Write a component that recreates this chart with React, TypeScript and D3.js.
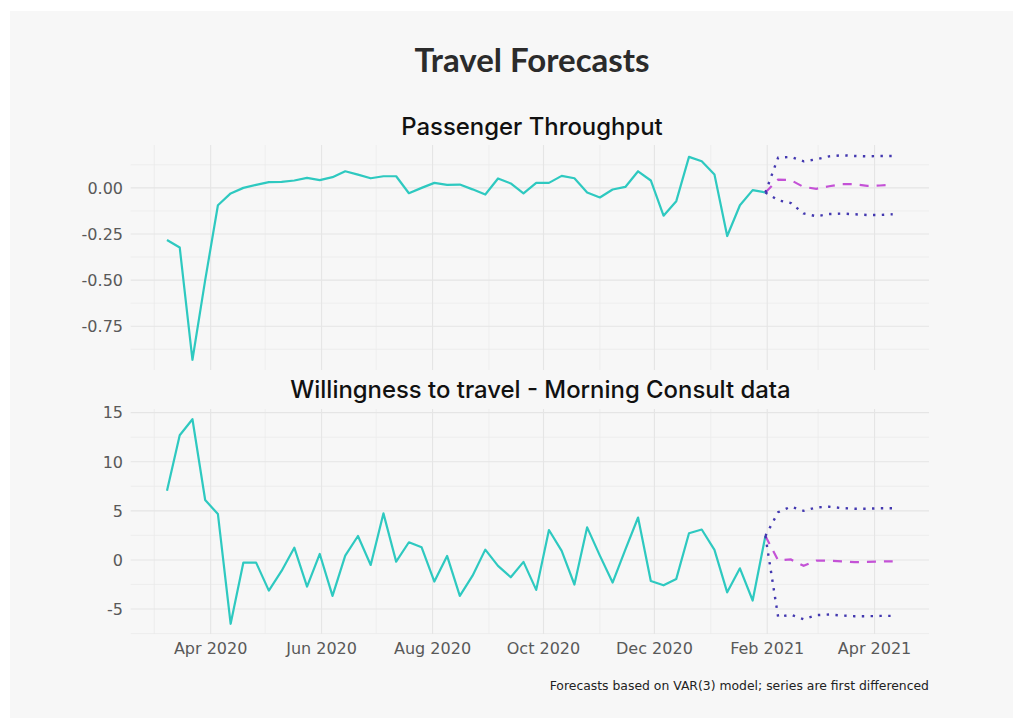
import { scaleTime, scaleLinear, line, extent, timeDay, timeFormat } from "d3";

// Weekly series: first observation and first forecast week
const obsStart = new Date(2020, 2, 8);
const fcStart = new Date(2021, 1, 7);

// Passenger throughput (first differenced)
const passengerObs = [
  -0.283, -0.323, -0.932, -0.5, -0.094, -0.03, 0.0, 0.016, 0.031, 0.033, 0.04, 0.054,
  0.042, 0.058, 0.09, 0.072, 0.052, 0.063, 0.063, -0.029, 0.0, 0.027, 0.016, 0.018,
  -0.008, -0.036, 0.051, 0.024, -0.03, 0.027, 0.027, 0.065, 0.052, -0.025, -0.052, -0.009,
  0.005, 0.09, 0.04, -0.151, -0.072, 0.168, 0.144, 0.072, -0.261, -0.094, -0.012, -0.025,
];
const passengerMean = [0.045, 0.042, 0.005, -0.005, 0.009, 0.02, 0.02, 0.011, 0.013, 0.018];
const passengerUpper = [0.164, 0.168, 0.144, 0.155, 0.171, 0.177, 0.173, 0.171, 0.173, 0.173];
const passengerLower = [-0.067, -0.082, -0.139, -0.154, -0.142, -0.139, -0.143, -0.147, -0.147, -0.143];

// Willingness to travel (first differenced)
const willingObs = [
  7.04, 12.7, 14.33, 6.1, 4.67, -6.5, -0.27, -0.27, -3.12, -1.12, 1.25, -2.71,
  0.61, -3.66, 0.44, 2.44, -0.51, 4.74, -0.17, 1.8, 1.29, -2.2, 0.41, -3.66,
  -1.6, 1.05, -0.6, -1.76, -0.2, -3.05, 3.05, 0.93, -2.5, 3.32, 0.44, -2.3,
  1.05, 4.32, -2.15, -2.58, -1.93, 2.72, 3.1, 1.02, -3.3, -0.85, -4.13, 2.44,
];
const willingMean = [-0.05, 0.05, -0.6, -0.07, -0.07, -0.14, -0.22, -0.2, -0.15, -0.15];
const willingUpper = [4.86, 5.42, 5.0, 5.35, 5.42, 5.28, 5.22, 5.22, 5.26, 5.26];
const willingLower = [-5.8, -5.58, -6.03, -5.62, -5.56, -5.66, -5.73, -5.73, -5.7, -5.7];

// Axis ticks
const xMajor = [
  new Date(2020, 3, 1), new Date(2020, 5, 1), new Date(2020, 7, 1), new Date(2020, 9, 1),
  new Date(2020, 11, 1), new Date(2021, 1, 1), new Date(2021, 3, 1),
];
const xMinor = [
  new Date(2020, 2, 1), new Date(2020, 4, 1), new Date(2020, 6, 1), new Date(2020, 8, 1),
  new Date(2020, 10, 1), new Date(2021, 0, 1), new Date(2021, 2, 1),
];
const passengerTicks = [0, -0.25, -0.5, -0.75];
const passengerMinor = [0.125, -0.125, -0.375, -0.625, -0.875];
const willingTicks = [15, 10, 5, 0, -5];
const willingMinor = [12.5, 7.5, 2.5, -2.5, -7.5];

const W = 1018;
const H = 722;
const left = 130.7;
const right = 929;
const teal = "#2ec9c0";
const magenta = "#c452d6";
const navy = "#4338b0";
const fmt = timeFormat("%b %Y");

type Pt = { d: Date; v: number };
const weekly = (start: Date, vals: number[]): Pt[] =>
  vals.map((v, i) => ({ d: timeDay.offset(start, 7 * i), v }));

const pad = (lo: number, hi: number): [number, number] => {
  const p = (hi - lo) * 0.05;
  return [lo - p, hi + p];
};

// shared x scale (ggplot style 5% expansion)
const obsDates = weekly(obsStart, passengerObs).map((p) => p.d);
const fcDates = weekly(fcStart, passengerMean).map((p) => p.d);
const [d0, d1] = extent([...obsDates, ...fcDates]) as [Date, Date];
const [t0, t1] = pad(+d0, +d1);
const x = scaleTime().domain([new Date(t0), new Date(t1)]).range([left, right]);

type PanelProps = {
  title: string;
  titleX: number;
  titleY: number;
  top: number;
  bottom: number;
  obs: number[];
  mean: number[];
  upper: number[];
  lower: number[];
  ticks: number[];
  minor: number[];
  tickFmt: (v: number) => string;
  showX: boolean;
};

const Panel = (p: PanelProps) => {
  const all = [...p.obs, ...p.upper, ...p.lower, ...p.mean];
  const [lo, hi] = pad(Math.min(...all), Math.max(...all));
  const y = scaleLinear().domain([lo, hi]).range([p.bottom, p.top]);
  const gen = line<Pt>()
    .x((d) => x(d.d))
    .y((d) => y(d.v));
  const obs = weekly(obsStart, p.obs);
  const last = obs[obs.length - 1];
  const withLast = (vals: number[]) => [last, ...weekly(fcStart, vals)];
  return (
    <g>
      {p.minor.map((v) => (
        <line key={"hm" + v} x1={left} x2={right} y1={y(v)} y2={y(v)} stroke="#ebebeb" strokeWidth={0.8} />
      ))}
      {xMinor.map((d) => (
        <line key={"vm" + +d} x1={x(d)} x2={x(d)} y1={p.top} y2={p.bottom} stroke="#ebebeb" strokeWidth={0.8} />
      ))}
      {p.ticks.map((v) => (
        <line key={"h" + v} x1={left} x2={right} y1={y(v)} y2={y(v)} stroke="#e5e5e5" strokeWidth={1.1} />
      ))}
      {xMajor.map((d) => (
        <line key={"v" + +d} x1={x(d)} x2={x(d)} y1={p.top} y2={p.bottom} stroke="#e5e5e5" strokeWidth={1.1} />
      ))}
      {p.ticks.map((v) => (
        <text key={"t" + v} x={123} y={y(v)} dy="0.36em" textAnchor="end" fontFamily="DejaVu Sans" fontSize={16} fill="#595959">
          {p.tickFmt(v)}
        </text>
      ))}
      {p.showX &&
        xMajor.map((d) => (
          <text key={"x" + +d} x={x(d)} y={654} textAnchor="middle" fontFamily="DejaVu Sans" fontSize={16} fill="#595959">
            {fmt(d)}
          </text>
        ))}
      <path d={gen(obs) ?? ""} fill="none" stroke={teal} strokeWidth={2.2} strokeLinejoin="round" />
      <path d={gen(withLast(p.mean)) ?? ""} fill="none" stroke={magenta} strokeWidth={2.2} strokeDasharray="9 8" />
      <path d={gen(withLast(p.upper)) ?? ""} fill="none" stroke={navy} strokeWidth={2.4} strokeDasharray="2.4 6.4" />
      <path d={gen(withLast(p.lower)) ?? ""} fill="none" stroke={navy} strokeWidth={2.4} strokeDasharray="2.4 6.4" />
      <text x={p.titleX} y={p.titleY} textAnchor="middle" fontFamily="Inter" fontWeight={500} fontSize={23.9} fill="#111">
        {p.title}
      </text>
    </g>
  );
};

export default function App() {
  return (
    <svg width={W} height={H} style={{ position: "absolute", left: 0, top: 0 }}>
      <rect x={0} y={0} width={W} height={H} fill="#ffffff" />
      <rect x={10} y={11} width={1003} height={707} fill="#f7f7f7" />
      <text x={532} y={72} textAnchor="middle" fontFamily="Lato" fontWeight={700} fontSize={33} fill="#2b2b2b">
        Travel Forecasts
      </text>
      <Panel
        title="Passenger Throughput"
        titleX={532}
        titleY={135}
        top={145}
        bottom={370}
        obs={passengerObs}
        mean={passengerMean}
        upper={passengerUpper}
        lower={passengerLower}
        ticks={passengerTicks}
        minor={passengerMinor}
        tickFmt={(v) => v.toFixed(2)}
        showX={false}
      />
      <Panel
        title="Willingness to travel - Morning Consult data"
        titleX={540.5}
        titleY={398}
        top={409}
        bottom={634}
        obs={willingObs}
        mean={willingMean}
        upper={willingUpper}
        lower={willingLower}
        ticks={willingTicks}
        minor={willingMinor}
        tickFmt={(v) => String(v)}
        showX={true}
      />
      <text x={929} y={690} textAnchor="end" fontFamily="DejaVu Sans" fontSize={12.4} fill="#222">
        Forecasts based on VAR(3) model; series are first differenced
      </text>
    </svg>
  );
}
